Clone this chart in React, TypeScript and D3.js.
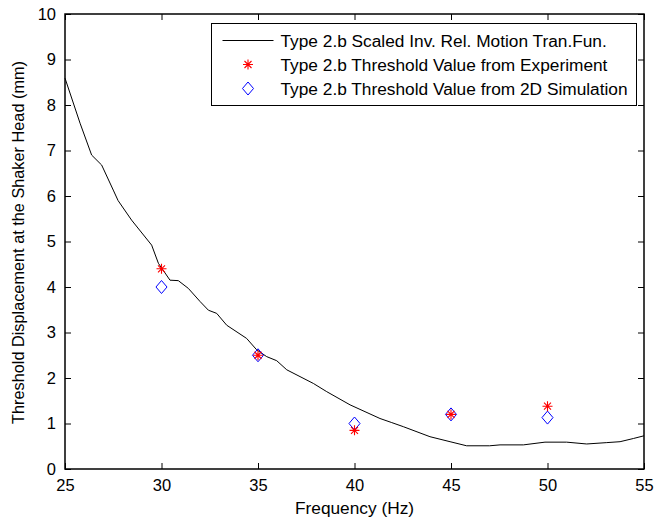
import React, { useEffect, useRef } from 'react';
import * as d3 from 'd3';

// curve: frequency (Hz) and threshold displacement (mm)
const curveFreq = [25, 25.78, 26.38, 26.9, 27.5, 27.75, 28.45, 29.49, 29.84, 30.44, 30.87, 31.39, 32.0, 32.43, 32.86, 33.38, 34.41, 34.93, 35.45, 35.97, 36.49, 37.87, 38.56, 39.77, 41.32, 41.93, 42.53, 43.91, 44.95, 45.81, 47.0, 47.54, 48.75, 49.87, 50.99, 52.03, 53.07, 53.76, 54.45, 55];
const curveDisp = [8.59, 7.6, 6.9, 6.68, 6.13, 5.9, 5.47, 4.92, 4.52, 4.15, 4.14, 3.97, 3.68, 3.49, 3.42, 3.16, 2.87, 2.62, 2.47, 2.38, 2.18, 1.88, 1.7, 1.41, 1.11, 1.02, 0.93, 0.71, 0.6, 0.51, 0.51, 0.53, 0.53, 0.59, 0.59, 0.55, 0.58, 0.6, 0.67, 0.73];

const pointFreq = [30, 35, 40, 45, 50];
const experiment = [4.4, 2.5, 0.85, 1.2, 1.38];
const simulation = [4.0, 2.5, 1.0, 1.2, 1.13];

const xTicks = [25, 30, 35, 40, 45, 50, 55];
const yTicks = [0, 1, 2, 3, 4, 5, 6, 7, 8, 9, 10];

const legendLabels = [
  'Type 2.b Scaled Inv. Rel. Motion Tran.Fun.',
  'Type 2.b Threshold Value from Experiment',
  'Type 2.b Threshold Value from 2D Simulation',
];

const width = 655;
const height = 523;
const margin = { top: 14, right: 11, bottom: 54, left: 65 };
const font = 'Liberation Sans, Arial, sans-serif';

function star(g: any, x: number, y: number) {
  const r = 5;
  g.append('path')
    .attr('d', `M${x - r},${y}H${x + r}M${x},${y - r}V${y + r}M${x - r * 0.7},${y - r * 0.7}L${x + r * 0.7},${y + r * 0.7}M${x - r * 0.7},${y + r * 0.7}L${x + r * 0.7},${y - r * 0.7}`)
    .attr('stroke', '#ff0000')
    .attr('stroke-width', 1.1)
    .attr('fill', 'none');
}

function diamond(g: any, x: number, y: number) {
  const r = 6.5;
  g.append('path')
    .attr('d', `M${x},${y - r}L${x + r * 0.85},${y}L${x},${y + r}L${x - r * 0.85},${y}Z`)
    .attr('stroke', '#0000ff')
    .attr('stroke-width', 1)
    .attr('fill', 'none');
}

export default function App() {
  const ref = useRef<SVGSVGElement>(null);

  useEffect(() => {
    const innerWidth = width - margin.left - margin.right;
    const innerHeight = height - margin.top - margin.bottom;

    const root = d3.select(ref.current);
    root.selectAll('*').remove();
    root.append('rect').attr('width', width).attr('height', height).attr('fill', '#fff');

    const svg = root.append('g').attr('transform', `translate(${margin.left}, ${margin.top})`);

    const xScale = d3.scaleLinear().domain([25, 55]).range([0, innerWidth]);
    const yScale = d3.scaleLinear().domain([0, 10]).range([innerHeight, 0]);

    // axes with inward ticks on every side
    const styleAxis = (g: any) => {
      g.select('.domain').remove();
      g.selectAll('line').attr('stroke', '#000');
      g.selectAll('text').attr('fill', '#000').attr('font-family', font).attr('font-size', 16.5);
    };

    svg.append('g')
      .attr('transform', `translate(0, ${innerHeight})`)
      .call(d3.axisBottom(xScale).tickValues(xTicks).tickFormat(d3.format('d')).tickSizeInner(-6).tickSizeOuter(0).tickPadding(10))
      .call(styleAxis);
    svg.append('g')
      .call(d3.axisTop(xScale).tickValues(xTicks).tickFormat(() => '').tickSizeInner(-6).tickSizeOuter(0))
      .call(styleAxis);
    svg.append('g')
      .call(d3.axisLeft(yScale).tickValues(yTicks).tickFormat(d3.format('d')).tickSizeInner(-6).tickSizeOuter(0).tickPadding(9))
      .call(styleAxis);
    svg.append('g')
      .attr('transform', `translate(${innerWidth}, 0)`)
      .call(d3.axisRight(yScale).tickValues(yTicks).tickFormat(() => '').tickSizeInner(-6).tickSizeOuter(0))
      .call(styleAxis);

    svg.append('rect')
      .attr('width', innerWidth)
      .attr('height', innerHeight)
      .attr('fill', 'none')
      .attr('stroke', '#000')
      .attr('stroke-width', 1.5);

    // curve
    const lineGen = d3.line<number>()
      .x((d, i) => xScale(curveFreq[i]))
      .y(d => yScale(d));
    svg.append('path')
      .attr('d', lineGen(curveDisp))
      .attr('fill', 'none')
      .attr('stroke', '#000')
      .attr('stroke-width', 1);

    const marks = svg.append('g');
    pointFreq.forEach((f, i) => {
      diamond(marks, xScale(f), yScale(simulation[i]));
      star(marks, xScale(f), yScale(experiment[i]));
    });

    // legend
    const legend = svg.append('g').attr('transform', `translate(${211.5 - margin.left}, ${23.5 - margin.top})`);
    legend.append('rect')
      .attr('width', 425)
      .attr('height', 82)
      .attr('fill', '#fff')
      .attr('stroke', '#000')
      .attr('stroke-width', 1);
    const rowY = [17, 41, 65];
    legend.append('line')
      .attr('x1', 11).attr('x2', 62)
      .attr('y1', rowY[0]).attr('y2', rowY[0])
      .attr('stroke', '#000');
    star(legend, 36.5, rowY[1]);
    diamond(legend, 36.5, rowY[2]);
    legend.selectAll('.lbl')
      .data(legendLabels)
      .join('text')
      .attr('class', 'lbl')
      .attr('x', 69)
      .attr('y', (d, i) => rowY[i] + 6)
      .attr('font-family', font)
      .attr('font-size', 17.3)
      .text(d => d);

    // axis titles
    svg.append('text')
      .attr('x', innerWidth / 2)
      .attr('y', innerHeight + 45)
      .attr('text-anchor', 'middle')
      .attr('font-family', font)
      .attr('font-size', 17.3)
      .text('Frequency (Hz)');
    svg.append('text')
      .attr('transform', `translate(${-41}, ${242.5 - margin.top}) rotate(-90)`)
      .attr('text-anchor', 'middle')
      .attr('font-family', font)
      .attr('font-size', 16.3)
      .text('Threshold Displacement at the Shaker Head (mm)');
  }, []);

  return (
    <div style={{ position: 'absolute', left: 0, top: 0 }}>
      <svg ref={ref} width={width} height={height} />
    </div>
  );
}
